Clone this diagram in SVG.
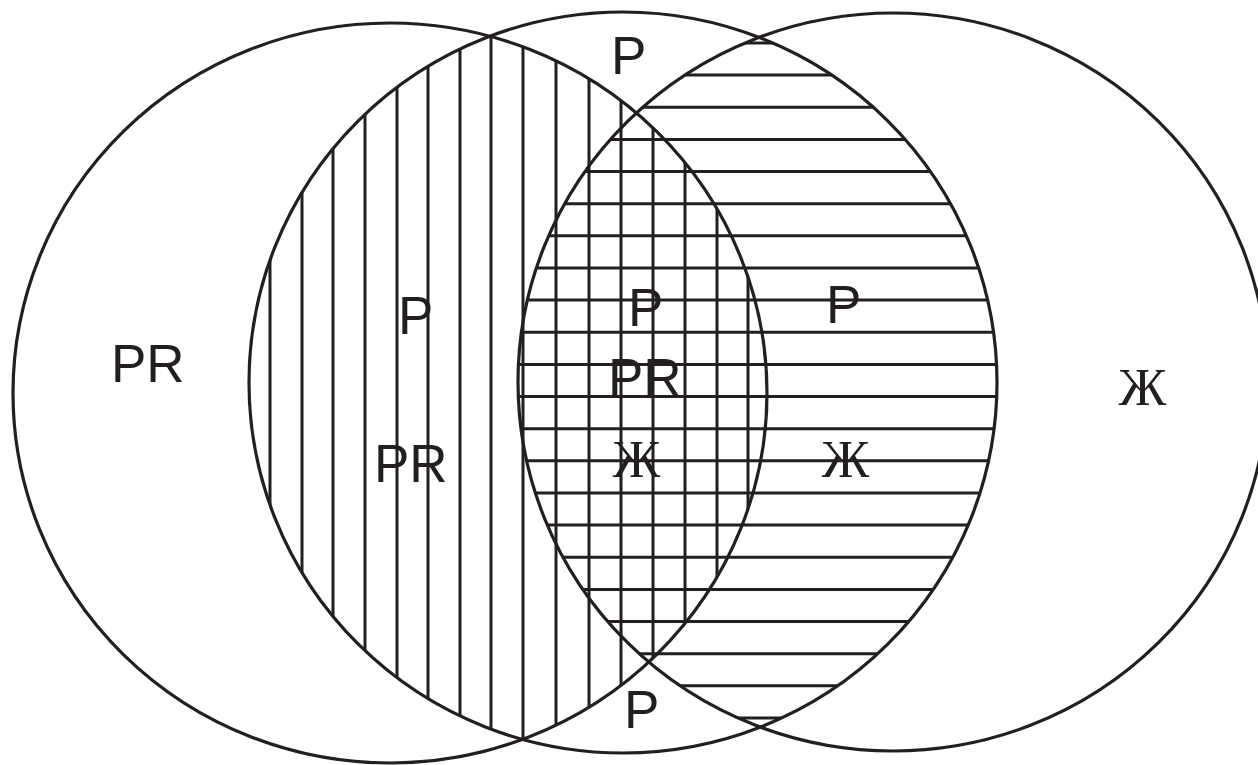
<svg xmlns="http://www.w3.org/2000/svg" width="1258" height="765" viewBox="0 0 1258 765">
  <style>
    .set { fill: none; stroke: #231f20; stroke-width: 3.2; }
    .hatch { fill: none; stroke: #231f20; stroke-width: 3; }
    .sans { font-family: "Liberation Sans", Arial, sans-serif; font-size: 53px; fill: #231f20; }
    .serif { font-family: "Liberation Serif", "Times New Roman", serif; font-size: 53px; fill: #231f20; text-anchor: middle; }
  </style>
  <defs>
    <clipPath id="clipA"><ellipse cx="390" cy="393" rx="377" ry="370"/></clipPath>
    <clipPath id="clipB"><ellipse cx="623" cy="382.5" rx="374" ry="370.5"/></clipPath>
    <clipPath id="clipC"><ellipse cx="893" cy="382" rx="375" ry="369"/></clipPath>
  </defs>
  <rect width="1258" height="765" fill="#ffffff"/>

  <g id="connectors">
    <!-- vertical hatching: A ∩ B -->
    <g id="hatch-vertical" clip-path="url(#clipA)">
      <g clip-path="url(#clipB)">
        <path class="hatch" d="M270 0V765M302 0V765M333 0V765M365 0V765M397 0V765M428 0V765M460 0V765M491 0V765M523 0V765M556 0V765M589 0V765M621 0V765M653 0V765M685 0V765M717 0V765M748 0V765"/>
      </g>
    </g>
    <!-- horizontal hatching: B ∩ C -->
    <g id="hatch-horizontal" clip-path="url(#clipB)">
      <g clip-path="url(#clipC)">
        <path class="hatch" d="M0 43H1258M0 75.1H1258M0 107.3H1258M0 139.4H1258M0 171.6H1258M0 203.7H1258M0 235.8H1258M0 268H1258M0 300.1H1258M0 332.3H1258M0 364.4H1258M0 396.5H1258M0 428.7H1258M0 460.8H1258M0 493H1258M0 525.1H1258M0 557.2H1258M0 589.4H1258M0 621.5H1258M0 653.7H1258M0 685.8H1258M0 718H1258"/>
      </g>
    </g>
  </g>

  <g id="set-left">
    <ellipse class="set" cx="390" cy="393" rx="377" ry="370"/>
  </g>
  <g id="set-middle">
    <ellipse class="set" cx="623" cy="382.5" rx="374" ry="370.5"/>
  </g>
  <g id="set-right">
    <ellipse class="set" cx="893" cy="382" rx="375" ry="369"/>
  </g>

  <g id="labels">
    <text class="sans" x="111" y="382">PR</text>
    <text class="sans" x="611" y="74">P</text>
    <text class="sans" x="398" y="334">P</text>
    <text class="sans" x="374" y="482">PR</text>
    <text class="sans" x="628" y="326">P</text>
    <text class="sans" x="608" y="396">PR</text>
    <text class="serif" x="636.5" y="477">Ж</text>
    <text class="sans" x="826" y="323">P</text>
    <text class="serif" x="845.5" y="477">Ж</text>
    <text class="serif" x="1142.5" y="405">Ж</text>
    <text class="sans" x="624" y="728">P</text>
  </g>
</svg>
